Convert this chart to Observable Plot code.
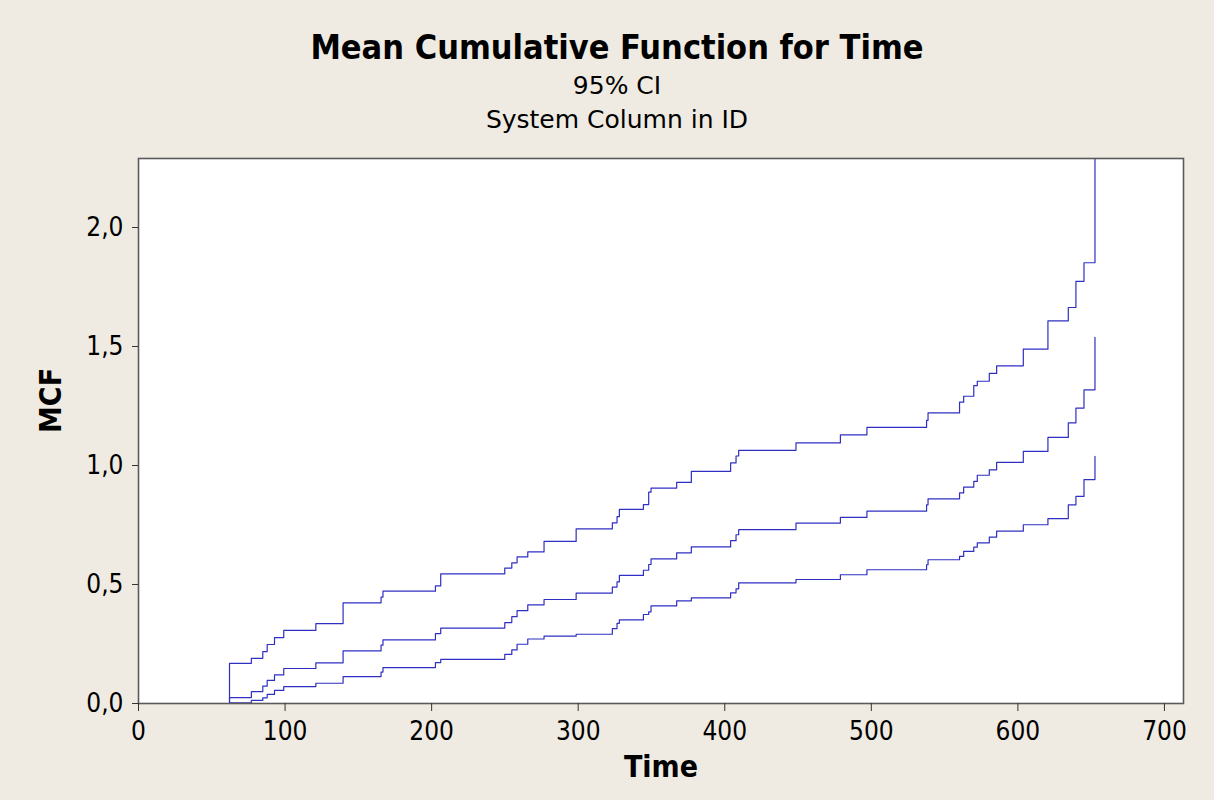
<!DOCTYPE html>
<html>
<head>
<meta charset="utf-8">
<script src="https://cdn.jsdelivr.net/npm/d3@7"></script>
<script src="https://cdn.jsdelivr.net/npm/@observablehq/plot@0.6"></script>
<style>
  html, body { margin: 0; padding: 0; background: #efebe2; }
  #wrap { width: 1214px; height: 800px; position: relative; background: #efebe2; }
  #titles { height: 140px; text-align: center; color: #000; }
  #titles div { position: absolute; left: 20px; width: 1194px; line-height: normal; }
  #t1 { font-family: "DejaVu Sans Condensed", "DejaVu Sans", sans-serif; font-weight: bold; font-size: 34px; top: 27px; }
  #t2 { font-family: "DejaVu Sans", sans-serif; font-size: 25px; top: 71px; }
  #t3 { font-family: "DejaVu Sans", sans-serif; font-size: 25px; top: 105px; }
  #chart { position: absolute; top: 140px; left: 0; }
</style>
</head>
<body>
<div id="wrap">
  <div id="titles">
    <div id="t1">Mean Cumulative Function for Time</div>
    <div id="t2">95% CI</div>
    <div id="t3">System Column in ID</div>
  </div>
  <div id="chart"></div>
</div>
<script>
// Event times (shared by the three step curves)
const times = [0, 62.1, 77, 84.8, 87.8, 92.8, 99.1, 121, 139.6, 165.5, 166.8, 202.6, 206.2, 249.9, 254.7, 258.3, 265.6, 276.7, 298.6, 323.3, 326.5, 328.1, 344.5, 348.1, 349.7, 367.2, 377.2, 404, 407.7, 409.5, 448.6, 478.9, 497, 537.7, 538.7, 560.2, 563, 569.9, 572.3, 580.5, 585.5, 603.7, 620.5, 634.4, 639.6, 645.1, 652.6];

// Upper 95% CI
const upperCI = [0, 0.169, 0.190, 0.218, 0.248, 0.277, 0.307, 0.336, 0.423, 0.447, 0.472, 0.494, 0.545, 0.569, 0.591, 0.616, 0.637, 0.681, 0.734, 0.759, 0.785, 0.816, 0.836, 0.888, 0.905, 0.929, 0.975, 1.011, 1.040, 1.064, 1.095, 1.129, 1.160, 1.190, 1.221, 1.266, 1.291, 1.336, 1.354, 1.387, 1.419, 1.489, 1.608, 1.664, 1.774, 1.852, 2.6];

// MCF estimate
const mcf = [0, 0.025, 0.050, 0.073, 0.097, 0.120, 0.147, 0.171, 0.221, 0.245, 0.267, 0.294, 0.317, 0.340, 0.365, 0.390, 0.414, 0.437, 0.464, 0.489, 0.511, 0.538, 0.560, 0.584, 0.608, 0.633, 0.658, 0.684, 0.709, 0.731, 0.758, 0.782, 0.808, 0.835, 0.860, 0.885, 0.909, 0.933, 0.959, 0.982, 1.013, 1.059, 1.118, 1.179, 1.241, 1.318, 1.539];

// Lower 95% CI
const lowerCI = [0, 0.003, 0.013, 0.024, 0.038, 0.055, 0.071, 0.085, 0.113, 0.132, 0.151, 0.172, 0.185, 0.206, 0.225, 0.249, 0.271, 0.283, 0.291, 0.315, 0.337, 0.351, 0.374, 0.385, 0.410, 0.431, 0.444, 0.465, 0.482, 0.507, 0.521, 0.541, 0.562, 0.583, 0.604, 0.618, 0.639, 0.657, 0.675, 0.699, 0.724, 0.751, 0.777, 0.835, 0.870, 0.941, 1.038];

const xTicks = [0, 100, 200, 300, 400, 500, 600, 700];
const yTicks = [0, 0.5, 1.0, 1.5, 2.0];

const seriesNames = ["Upper", "MCF", "Lower"];
const seriesValues = [upperCI, mcf, lowerCI];
const rows = [];
seriesNames.forEach((name, k) => {
  times.forEach((t, i) => rows.push({series: name, time: t, value: seriesValues[k][i]}));
});

const fmt = d => d.toFixed(1).replace(".", ",");
const lineColor = "#2f2fc2";

const chart = Plot.plot({
  width: 1214,
  height: 660,
  marginLeft: 138,
  marginRight: 31,
  marginTop: 18,
  marginBottom: 97,
  style: {background: "transparent", fontFamily: "'DejaVu Sans Condensed', 'DejaVu Sans', sans-serif", color: "#000"},
  x: {domain: [0, 713], ticks: xTicks, label: null},
  y: {domain: [0, 2.29], ticks: yTicks, label: null},
  marks: [
    Plot.frame({fill: "white", stroke: null}),
    Plot.line(rows, {x: "time", y: "value", z: "series", stroke: lineColor, strokeWidth: 1.2, curve: "step-after", clip: true}),
    Plot.frame({stroke: "#5a5a5a", strokeWidth: 1.6}),
    Plot.axisX({ticks: xTicks, tickSize: 8, tickPadding: 10, fontSize: 26, tickFormat: d => String(d), stroke: "#333"}),
    Plot.axisY({ticks: yTicks, tickSize: 6, tickPadding: 9, fontSize: 26, tickFormat: fmt, stroke: "#333"}),
    Plot.text(["Time"], {frameAnchor: "bottom", dy: 73, fontSize: 30, fontWeight: "bold", fill: "#000"}),
    Plot.text(["MCF"], {frameAnchor: "left", dx: -87, dy: 2, rotate: -90, fontSize: 30, fontWeight: "bold", fill: "#000"})
  ]
});
document.getElementById("chart").appendChild(chart);
</script>
</body>
</html>
